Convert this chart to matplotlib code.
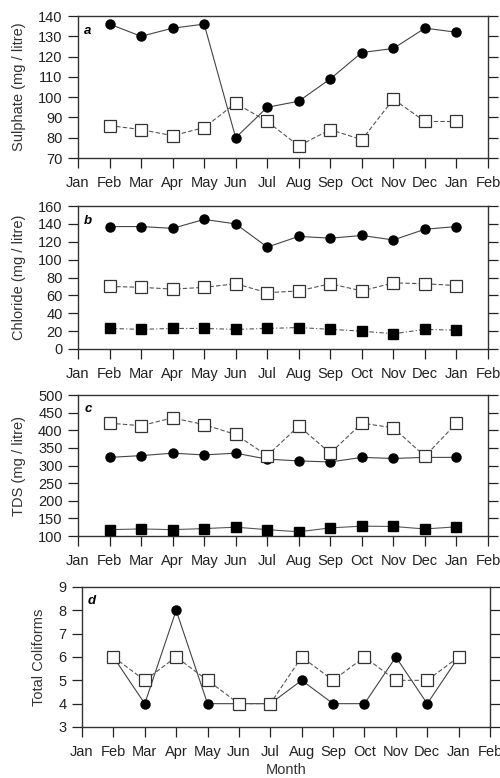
import numpy as np
import matplotlib.pyplot as plt

plt.rcParams['font.family'] = ['Liberation Sans', 'DejaVu Sans']

months = ['Jan', 'Feb', 'Mar', 'Apr', 'May', 'Jun', 'Jul', 'Aug', 'Sep',
          'Oct', 'Nov', 'Dec', 'Jan', 'Feb']
# samples taken Feb .. Jan (positions 1..12 on the month axis)
sample_idx = np.arange(1, 13)

sulphate_circ = [136, 130, 134, 136, 80, 95, 98, 109, 122, 124, 134, 132]
sulphate_osq = [86, 84, 81, 85, 97, 88, 76, 84, 79, 99, 88, 88]

chloride_circ = [137, 137, 135, 145, 140, 114, 126, 124, 127, 122, 134, 137]
chloride_osq = [70, 69, 67, 69, 73, 63, 65, 73, 65, 74, 73, 71]
chloride_fsq = [23, 22, 23, 23, 22, 23, 24, 22, 20, 17, 22, 21]

tds_osq = [420, 413, 435, 416, 388, 328, 412, 335, 420, 407, 326, 420]
tds_circ = [323, 328, 335, 330, 335, 318, 313, 310, 323, 320, 323, 323]
tds_fsq = [118, 120, 118, 121, 125, 118, 112, 123, 128, 127, 120, 126]

coli_circ = [6, 4, 8, 4, 4, 4, 5, 4, 4, 6, 4, 6]
coli_osq = [6, 5, 6, 5, 4, 4, 6, 5, 6, 5, 5, 6]

W, H = 500, 778
fig = plt.figure(figsize=(W / 100, H / 100), dpi=100)


def make_ax(left, right, top, bottom):
    return fig.add_axes([left / W, 1 - bottom / H, (right - left) / W, (bottom - top) / H])


lc = '#444444'
fs = 10.5


def circ(ax, y):
    ax.plot(sample_idx, y, '-', color=lc, lw=0.8, marker='o', ms=6.5,
            mfc='black', mec='black', zorder=3)


def osq(ax, y):
    ax.plot(sample_idx, y, color='#555555', lw=0.8, ls=(0, (4, 2)), marker='s', ms=8,
            mfc='white', mec='#333333', mew=0.9, zorder=4)


def fsq(ax, y, ls):
    ax.plot(sample_idx, y, color='#555555', lw=0.8, ls=ls, marker='s', ms=7.5,
            mfc='black', mec='black', zorder=3)


def style(ax, ylim, yticks, ylabel, tag):
    ax.set_xlim(0, 13)
    ax.set_xticks(range(14))
    ax.set_xticklabels(months, fontsize=fs)
    ax.set_ylim(*ylim)
    ax.set_yticks(yticks)
    ax.set_yticklabels([str(v) for v in yticks], fontsize=fs)
    ax.set_ylabel(ylabel, fontsize=fs, labelpad=9, color='#333333')
    ax.tick_params(axis='both', direction='out', length=7, width=0.9,
                   colors='#222222')
    ax.tick_params(axis='x', pad=6)
    ax.tick_params(axis='y', right=True, pad=4)
    for s in ax.spines.values():
        s.set_linewidth(1.0)
        s.set_color('#333333')
    ax.text(0.015, 0.94, tag, transform=ax.transAxes, fontsize=9.5,
            fontweight='bold', fontstyle='italic', va='top', ha='left')


ax1 = make_ax(78, 488, 16, 158)
circ(ax1, sulphate_circ)
osq(ax1, sulphate_osq)
style(ax1, (70, 140), range(70, 141, 10), 'Sulphate (mg / litre)', 'a')

ax2 = make_ax(78, 488, 206, 349)
circ(ax2, chloride_circ)
osq(ax2, chloride_osq)
fsq(ax2, chloride_fsq, (0, (4, 2, 1, 2)))
style(ax2, (0, 160), range(0, 161, 20), 'Chloride (mg / litre)', 'b')

ax3 = make_ax(78, 488, 395, 536)
osq(ax3, tds_osq)
circ(ax3, tds_circ)
fsq(ax3, tds_fsq, '-')
style(ax3, (100, 500), range(100, 501, 50), 'TDS (mg / litre)', 'c')

ax4 = make_ax(82, 490, 587, 727)
circ(ax4, coli_circ)
osq(ax4, coli_osq)
style(ax4, (3, 9), range(3, 10), 'Total Coliforms', 'd')
ax4.set_xlabel('Month', fontsize=fs, labelpad=3, color='#333333')

fig.savefig('out.png', dpi=100)
